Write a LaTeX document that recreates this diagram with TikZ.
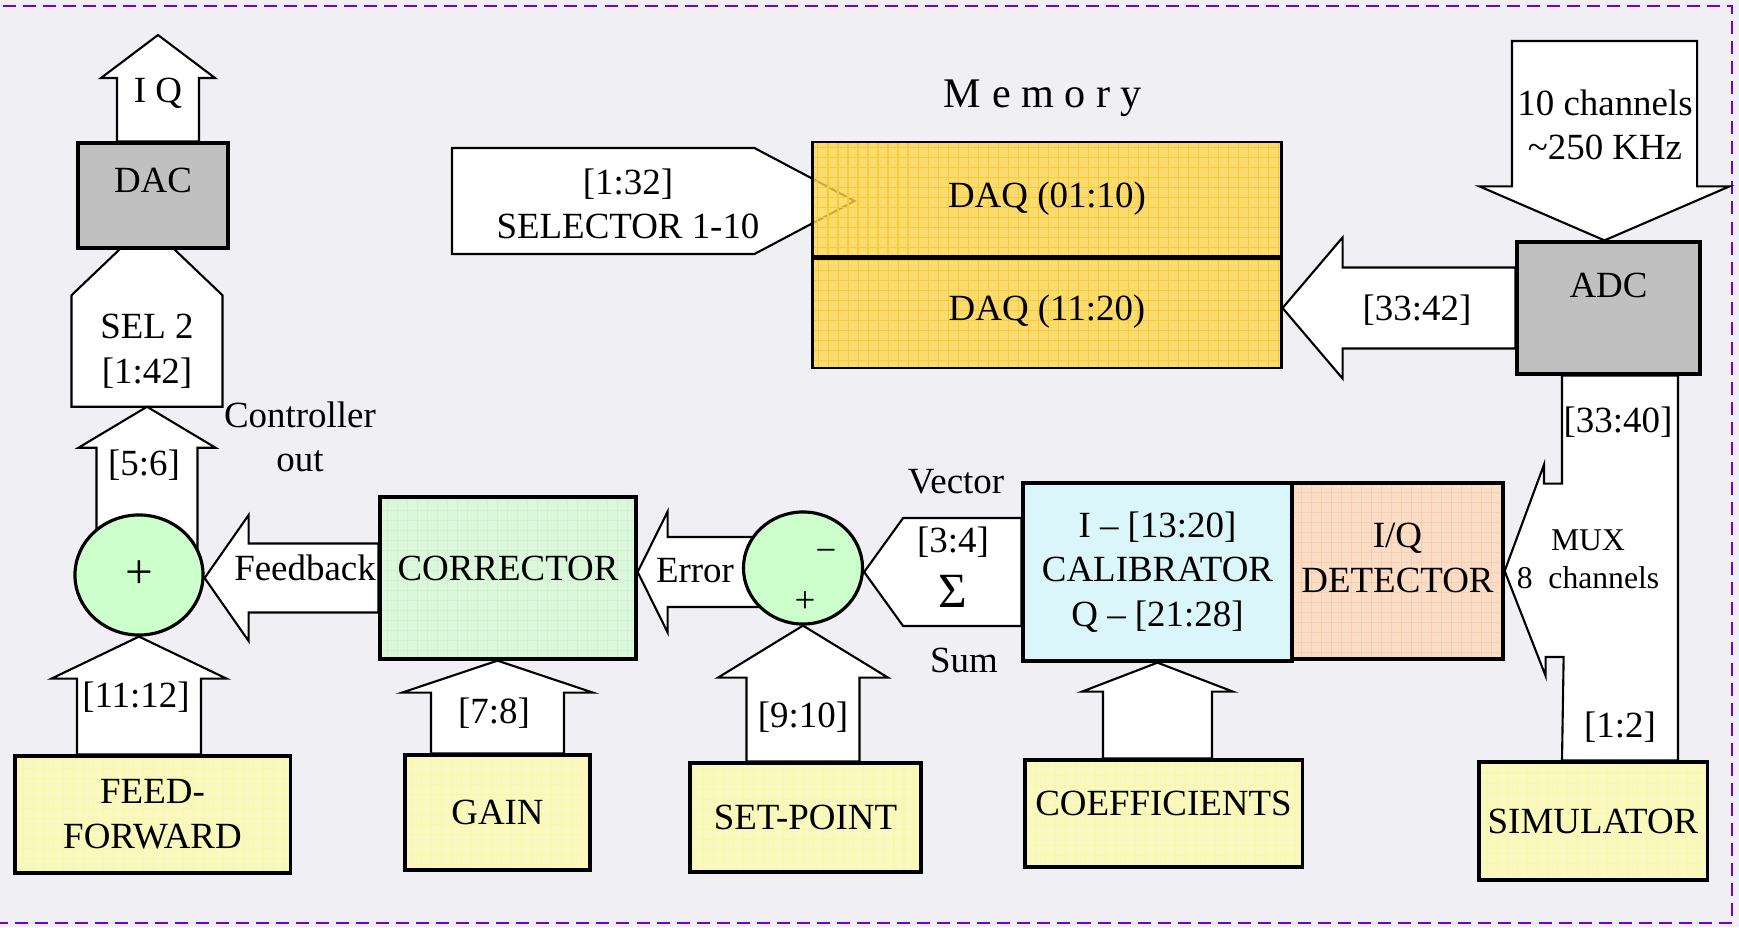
\documentclass[tikz,border=0pt]{standalone}
\usepackage{fontspec}
\setmainfont{Liberation Serif}
\usetikzlibrary{calc,shapes.geometric}
\definecolor{paper}{RGB}{239,239,244}
\definecolor{border}{RGB}{110,0,220}
\definecolor{boxgrey}{RGB}{192,192,192}
\definecolor{memfill}{RGB}{253,214,80}
\definecolor{memline}{RGB}{247,204,55}
\definecolor{ctrlfill}{RGB}{220,247,220}
\definecolor{ctrlline}{RGB}{206,244,206}
\definecolor{sumfill}{RGB}{204,255,204}
\definecolor{calfill}{RGB}{218,246,250}
\definecolor{detfill}{RGB}{249,221,198}
\definecolor{detline}{RGB}{250,206,170}
\definecolor{srcfill}{RGB}{248,248,192}
\definecolor{srcline}{RGB}{249,249,165}
\pgfdeclarelayer{back}
\pgfdeclarelayer{arrows}
\pgfsetlayers{back,arrows,main}
\tikzset{
box/.style={rectangle, draw=black, line width=0.9pt, inner sep=0pt, align=center},
grey box/.style={box, fill=boxgrey},
gridded/.style={path picture={\draw[#1, line width=0.3pt, step=1mm] (path picture bounding box.south west) grid (path picture bounding box.north east);}},
memory cell/.style={box, line width=0.8pt, fill=memfill, fill opacity=0.8, text opacity=1, gridded=memline},
source box/.style={box, fill=srcfill, gridded=srcline},
junction/.style={ellipse, draw=black, line width=0.9pt, fill=sumfill, inner sep=0pt},
block arrow/.style={draw=black, fill=white, line width=0.6pt},
%% fat arrows: shaft half width / head half width / head length
upblock/.style args={#1/#2/#3}{to path={
  let \p1=(\tikztostart), \p2=(\tikztotarget) in
  (\x2-#1,\y1) -- (\x2-#1,\y2-#3) -- (\x2-#2,\y2-#3) -- (\x2,\y2)
  -- (\x2+#2,\y2-#3) -- (\x2+#1,\y2-#3) -- (\x2+#1,\y1) -- cycle}},
downblock/.style args={#1/#2/#3}{to path={
  let \p1=(\tikztostart), \p2=(\tikztotarget) in
  (\x2-#1,\y1) -- (\x2-#1,\y2+#3) -- (\x2-#2,\y2+#3) -- (\x2,\y2)
  -- (\x2+#2,\y2+#3) -- (\x2+#1,\y2+#3) -- (\x2+#1,\y1) -- cycle}},
leftblock/.style args={#1/#2/#3}{to path={
  let \p1=(\tikztostart), \p2=(\tikztotarget) in
  (\x1,\y1+#1) -- (\x2+#3,\y1+#1) -- (\x2+#3,\y1+#2) -- (\x2,\y1)
  -- (\x2+#3,\y1-#2) -- (\x2+#3,\y1-#1) -- (\x1,\y1-#1) -- cycle}},
rightblock/.style args={#1/#2/#3}{to path={
  let \p1=(\tikztostart), \p2=(\tikztotarget) in
  (\x1,\y1+#1) -- (\x2-#3,\y1+#1) -- (\x2-#3,\y1+#2) -- (\x2,\y1)
  -- (\x2-#3,\y1-#2) -- (\x2-#3,\y1-#1) -- (\x1,\y1-#1) -- cycle}}
}

\begin{document}
\begin{tikzpicture}[x=0.01cm, y=-0.01cm, font=\fontsize{10.5}{12.7}\selectfont,
  every node/.append style={align=center}]
\useasboundingbox (0,0) rectangle (1739,927);
\begin{pgfonlayer}{back}
\fill[paper] (0,0) rectangle (1739,927);
\draw[border, line width=0.6pt, dash pattern=on 3.7pt off 2pt] (-10,6) rectangle (1732,923);
\end{pgfonlayer}

%Nodes
\node[grey box, minimum width=15mm, minimum height=10.5mm, text depth=8.6pt] (dac) at (153,195.5) {DAC};
\node[minimum width=15.1mm, minimum height=11mm, inner sep=0pt] (sel2) at (147,351) {SEL 2\\{}[1:42]};
\node[junction, minimum width=12.8mm, minimum height=12mm, font=\fontsize{14}{14}\selectfont] (sum) at (139,575) {+};
\node[box, fill=ctrlfill, gridded=ctrlline, minimum width=25.6mm, minimum height=16.2mm, text depth=5.7pt] (corrector) at (508,578) {CORRECTOR};
\node[junction, minimum width=11.9mm, minimum height=11.2mm] (diff) at (803,568) {};
\node[box, fill=calfill, minimum width=26.9mm, minimum height=17.8mm] (calib) at (1157.5,572) {I – [13:20]\\CALIBRATOR\\Q – [21:28]};
\node[box, fill=detfill, gridded=detline, minimum width=21.1mm, minimum height=17.6mm, text depth=7.4pt] (iqdet) at (1397.5,571) {I/Q\\DETECTOR};
\node[grey box, minimum width=18.3mm, minimum height=13.2mm, text depth=13pt] (adc) at (1608.5,308) {ADC};
\node[memory cell, minimum width=46.8mm, minimum height=11.4mm] (daq1) at (1047,199) {DAQ (01:10)};
\node[memory cell, minimum width=46.8mm, minimum height=11.2mm] (daq2) at (1047,312) {DAQ (11:20)};
\node[font=\fontsize{12}{14}\selectfont] (memlbl) at (1043,98) {M e m o r y};

\node[source box, minimum width=27.5mm, minimum height=11.7mm] (ff) at (152.5,814.5) {FEED-\\FORWARD};
\node[source box, minimum width=18.5mm, minimum height=11.5mm] (gain) at (497.5,812.5) {GAIN};
\node[source box, minimum width=23.1mm, minimum height=10.9mm] (setpt) at (805.5,817.5) {SET-POINT};
\node[source box, minimum width=27.7mm, minimum height=10.7mm, text depth=6pt] (coeff) at (1163.5,813.5) {COEFFICIENTS};
\node[source box, minimum width=22.8mm, minimum height=11.8mm] (sim) at (1593,821) {SIMULATOR};

\draw[line width=1.3pt] (daq1.south west) -- (daq1.south east);

%Free ends
\coordinate (iqout) at (158,35);
\coordinate (sel2top) at ($(sel2.north)+(0,-72)$);
\coordinate (seltail) at (452,201);
\coordinate (seltip) at ($(daq1.west)+(43,0)$);
\coordinate (chin) at (1604.5,41);
\coordinate (chtip) at (adc.north -| chin);
\coordinate (gaintip) at (corrector.south -| gain.north);
\coordinate (errtail) at ($(diff.center)+(0,4)$);
\coordinate (muxl) at ($(adc.south)+(-46.5,0)$);
\coordinate (muxr) at ($(adc.south)+(69.5,0)$);

%Arrows
\begin{pgfonlayer}{arrows}
\draw[block arrow, upblock=4.1mm/5.7mm/4.3mm] (dac.north) to (iqout);
\draw[block arrow, upblock=7.55mm/7.55mm/7.2mm] (sel2.south) to (sel2top);
\draw[block arrow, upblock=5.05mm/6.85mm/4.1mm] (sum.center) to (sel2.south);
\draw[block arrow, upblock=6.2mm/8.75mm/4.2mm] (ff.north) to (sum.south);
\draw[block arrow, upblock=6.65mm/9.55mm/3.2mm] (gain.north) to (gaintip);
\draw[block arrow, upblock=5.65mm/8.5mm/5.2mm] (setpt.north) to (diff.south);
\draw[block arrow, upblock=5.45mm/7.55mm/2.9mm] (coeff.north) to (calib.south);
\draw[block arrow, leftblock=3.45mm/6.3mm/4.4mm] (corrector.west) to (sum.east);
\draw[block arrow, leftblock=3.5mm/6.05mm/3mm] (errtail) to (corrector.east);
\draw[block arrow, leftblock=5.4mm/5.4mm/3.9mm] (calib.west) to (diff.east);
\draw[block arrow, leftblock=4.05mm/7.05mm/6mm] (adc.west) to (daq2.east);
\draw[block arrow, rightblock=5.3mm/5.3mm/10mm] (seltail) to (seltip);
\draw[block arrow, downblock=9.25mm/12.5mm/5.4mm] (chin) to (chtip);
\draw[block arrow] (muxl) -- ++(0,108) -- ++(-18,0) -- ++(0,-19) -- (iqdet.east)
  -- ++(41,105) -- ++(0,-19) -- ++(18,0) -- (muxl |- sim.north)
  -- (muxr |- sim.north) -- (muxr) -- cycle;
\end{pgfonlayer}

%Labels
\node (iqlbl) at (158,93) {I Q};
\node (ctrlout) at (300,437) {Controller\\out};
\node (lbl56) at (144,465) {[5:6]};
\node (lbl1112) at (136,697) {[11:12]};
\node (fblbl) at (305,568) {Feedback};
\node (lbl78) at (494,713) {[7:8]};
\node (errlbl) at (695,571) {Error};
\node (lbl910) at (803,717) {[9:10]};
\node (minus) at (826,556) {−};
\node (plus) at (805,602) {+};
\node (lbl34) at (953,542) {[3:4]};
\node[font=\fontsize{14}{14}\selectfont] (sigma) at (953,591) {Σ};
\node (veclbl) at (956,482) {Vector};
\node (sumlbl) at (964,660) {Sum};
\node (sellbl) at (628,204) {[1:32]\\SELECTOR 1-10};
\node (lbl3342) at (1417,310) {[33:42]};
\node (chlbl) at (1605,125) {10 channels\\\textasciitilde 250 KHz};
\node (lbl3340) at (1618,422) {[33:40]};
\node[font=\fontsize{9}{10.8}\selectfont] (muxlbl) at (1588,559) {MUX\\8~~channels};
\node (lbl12) at (1620,727) {[1:2]};
\end{tikzpicture}
\end{document}
